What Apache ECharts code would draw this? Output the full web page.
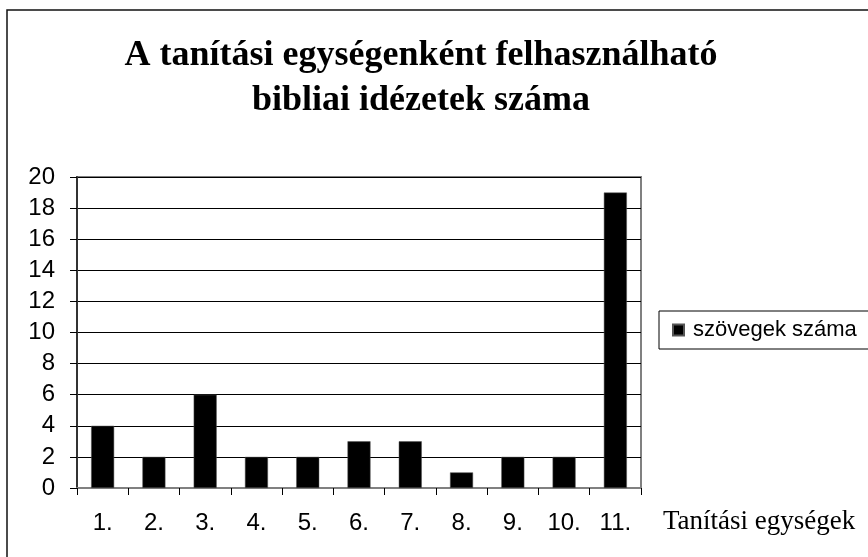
<!DOCTYPE html>
<html>
<head>
<meta charset="utf-8">
<script src="https://cdn.jsdelivr.net/npm/echarts@6/dist/echarts.min.js"></script>
<style>
html,body{margin:0;padding:0;background:#fff;}
#chart{width:868px;height:557px;}
</style>
</head>
<body>
<div id="chart"></div>
<script>
const titleText = 'A tanítási egységenként felhasználható\nbibliai idézetek száma';
const categories = ['1.', '2.', '3.', '4.', '5.', '6.', '7.', '8.', '9.', '10.', '11.'];
const seriesName = 'szövegek száma';
const values = [4, 2, 6, 2, 2, 3, 3, 1, 2, 2, 19];
const xAxisTitle = 'Tanítási egységek';

const chart = echarts.init(document.getElementById('chart'), null, {renderer: 'canvas'});
chart.setOption({
  backgroundColor: '#fff',
  animation: false,
  graphic: [{
    type: 'rect',
    shape: {x: 7, y: 10, width: 900, height: 600},
    style: {fill: 'none', stroke: '#111', lineWidth: 1.5},
    silent: true,
    z: -1
  }],
  title: {
    text: titleText,
    left: 416,
    top: 28,
    textAlign: 'center',
    textStyle: {
      fontFamily: 'Liberation Serif',
      fontWeight: 'bold',
      fontSize: 36,
      lineHeight: 45,
      color: '#000'
    }
  },
  legend: {
    left: 659,
    top: 311,
    orient: 'vertical',
    icon: 'rect',
    itemWidth: 11,
    itemHeight: 11,
    padding: [8, 20, 8, 13],
    borderColor: '#000',
    borderWidth: 1,
    textStyle: {fontFamily: 'Arial, Liberation Sans', fontSize: 22, color: '#000', padding: [0, 0, 0, 4]},
    data: [seriesName]
  },
  grid: {left: 77, right: 227, top: 177, bottom: 69, show: true, borderColor: '#808080', borderWidth: 2, containLabel: false},
  xAxis: {
    type: 'category',
    data: categories,
    name: xAxisTitle,
    nameLocation: 'end',
    nameGap: 22,
    nameTextStyle: {fontFamily: 'Liberation Serif', fontSize: 27, color: '#000', align: 'left', verticalAlign: 'top', padding: [20, 0, 0, 0]},
    axisLine: {lineStyle: {color: '#808080', width: 2}},
    axisTick: {show: true, length: 7, lineStyle: {color: '#000'}},
    axisLabel: {fontFamily: 'Arial, Liberation Sans', fontSize: 24, color: '#000', margin: 23},
    splitLine: {show: false}
  },
  yAxis: {
    type: 'value',
    min: 0,
    max: 20,
    interval: 2,
    axisLine: {show: true, lineStyle: {color: '#333', width: 2}},
    axisTick: {show: true, length: 7, lineStyle: {color: '#000'}},
    axisLabel: {fontFamily: 'Arial, Liberation Sans', fontSize: 24, color: '#000', margin: 22},
    splitLine: {show: true, lineStyle: {color: '#000', width: 1}}
  },
  series: [{
    name: seriesName,
    type: 'bar',
    data: values,
    barWidth: 23,
    itemStyle: {color: '#000', borderColor: '#555', borderWidth: 0.5}
  }]
});
</script>
</body>
</html>
